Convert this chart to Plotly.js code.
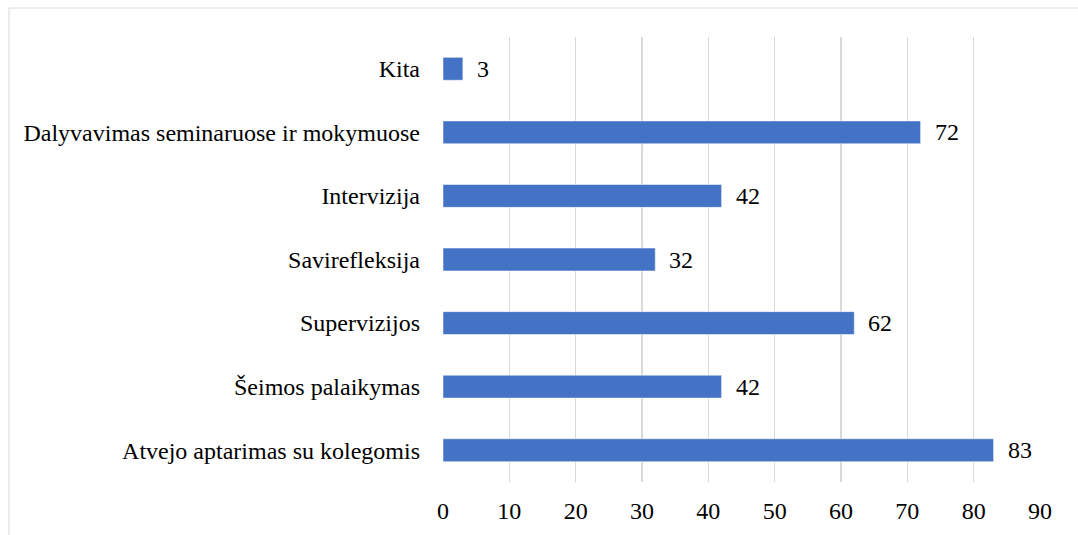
<!DOCTYPE html>
<html>
<head>
<meta charset="utf-8">
<script src="https://cdn.plot.ly/plotly-3.0.1.min.js"></script>
<style>html,body{margin:0;padding:0;background:#fff;}#chart{width:1078px;height:535px;}</style>
</head>
<body>
<div id="chart"></div>
<script>
const categories = ["Atvejo aptarimas su kolegomis", "Šeimos palaikymas", "Supervizijos", "Savirefleksija", "Intervizija", "Dalyvavimas seminaruose ir mokymuose", "Kita"];
const values = [83, 42, 62, 32, 42, 72, 3];
const xTicks = [0, 10, 20, 30, 40, 50, 60, 70, 80, 90];

const font = {family: "'Liberation Serif', 'Times New Roman', serif", size: 24, color: "#000"};

const trace = {
  type: "bar",
  orientation: "h",
  y: categories,
  x: values,
  marker: {color: "#4472C4", line: {color: "#ffffff", width: 0.5}},
  hoverinfo: "none"
};

const annotations = categories.map((c, i) => ({
  x: values[i], y: c, xref: "x", yref: "y",
  text: String(values[i]), showarrow: false,
  xanchor: "left", yanchor: "middle", xshift: 12,
  font: font
}));

const layout = {
  width: 1078, height: 535,
  margin: {l: 443, r: 38, t: 37, b: 53},
  paper_bgcolor: "#fff", plot_bgcolor: "#fff",
  font: font,
  showlegend: false,
  bargap: 0.64,
  xaxis: {
    range: [0, 90], tickvals: xTicks, ticktext: xTicks.map(String),
    showgrid: true, gridcolor: "#d9d9d9", gridwidth: 1.5,
    zeroline: false, showline: false, ticks: "",
    tickfont: font, ticklabelstandoff: 12, fixedrange: true
  },
  yaxis: {
    categoryorder: "array", categoryarray: categories,
    showgrid: false, zeroline: false, showline: false, ticks: "",
    tickfont: font, ticklabelstandoff: 22, fixedrange: true
  },
  annotations: annotations,
  shapes: [{
    type: "rect", xref: "paper", yref: "paper",
    x0: -434/597, x1: 1.07, y0: -0.2, y1: 1 + 29/445,
    line: {color: "#d9d9d9", width: 1}, fillcolor: "rgba(0,0,0,0)", layer: "below"
  }]
};

Plotly.newPlot("chart", [trace], layout, {displayModeBar: false, staticPlot: true});
</script>
</body>
</html>
